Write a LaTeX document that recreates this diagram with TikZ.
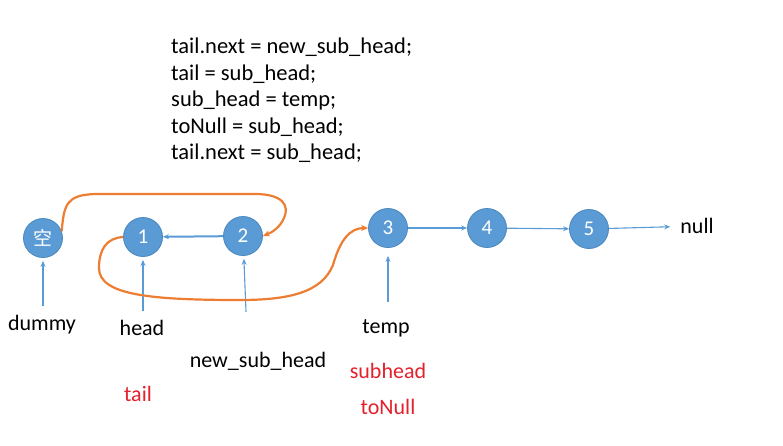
\documentclass[tikz,border=0pt]{standalone}
\usepackage{fontspec}
\setmainfont{Carlito}
\newfontfamily\cjkfont{Noto Sans CJK SC}
\usetikzlibrary{arrows.meta}
\definecolor{nodeblue}{HTML}{5B9BD5}
\definecolor{nodeedge}{HTML}{4A86BE}
\definecolor{linkorange}{HTML}{ED7D31}
\definecolor{labelred}{HTML}{E3202B}
\begin{document}
\begin{tikzpicture}[x=1pt,y=-1pt,>={Stealth[length=6pt,width=5pt]},
 cell/.style={circle,fill=nodeblue,draw=nodeedge,line width=0.8pt,minimum size=39pt,inner sep=0pt,text=white,font=\fontsize{21}{24}\selectfont},
 lbl/.style={font=\fontsize{22}{24}\selectfont,inner sep=1pt},
 redlbl/.style={lbl,text=labelred},
 ptr/.style={->,draw=nodeblue,line width=1.1pt},
 bold ptr/.style={ptr,line width=2pt},
 link/.style={->,draw=linkorange,line width=2.2pt,>={Stealth[length=7pt,width=6pt]}}]
\useasboundingbox (0,0) rectangle (783,445);
\node[lbl,align=left,anchor=north west,font=\fontsize{22.5}{26.5}\selectfont] (code) at (170,37)
 {tail.next = new\_sub\_head;\\tail = sub\_head;\\sub\_head = temp;\\toNull = sub\_head;\\tail.next = sub\_head;};
% list cells
\node[cell,font=\cjkfont\fontsize{19}{22}\selectfont] (empty) at (43,238) {空};
\node[cell] (one) at (143,237) {1};
\node[cell] (two) at (243,236) {2};
\node[cell] (three) at (388,228) {3};
\node[cell] (four) at (487,228) {4};
\node[cell] (five) at (589,229) {5};
\node[lbl] (null) at (697,226) {null};
% pointer names
\node[lbl] (dummy) at (42,325) {dummy};
\node[lbl] (head) at (142,328) {head};
\node[lbl] (newsub) at (258,361) {new\_sub\_head};
\node[lbl] (temp) at (386,328) {temp};
\node[redlbl] (subhead) at (388,371) {subhead};
\node[redlbl] (tonull) at (388,407) {toNull};
\node[redlbl] (tail) at (138,394) {tail};
\coordinate (newsubtail) at (246,312);
% next links
\draw[bold ptr] (two) -- (one);
\draw[ptr] (three) -- (four);
\draw[ptr] (four) -- (five);
\draw[ptr,shorten >=9pt] (five) -- (null);
% pointers
\draw[ptr,shorten <=8pt,shorten >=3pt] (dummy.north -| empty) -- (empty);
\draw[ptr,shorten <=8pt,shorten >=3pt] (head.north -| one) -- (one);
\draw[ptr,shorten >=3pt] (newsubtail) -- (two);
\draw[bold ptr,shorten <=16pt,shorten >=8pt] (temp.north -| three) -- (three);
% rewired links
\draw[link] (empty.20) .. controls (64,205) and (66,195) .. (95,194) -- (255,194)
 .. controls (282,194) and (290,205) .. (284,218) .. controls (280,227) and (273,232) .. (two.east);
\draw[link] (one.west) .. controls (106,238) and (99,250) .. (99,268)
 .. controls (99,295) and (150,300) .. (240,300) .. controls (290,300) and (322,292) .. (333,265)
 .. controls (340,240) and (350,228) .. (three.west);
\end{tikzpicture}
\end{document}
